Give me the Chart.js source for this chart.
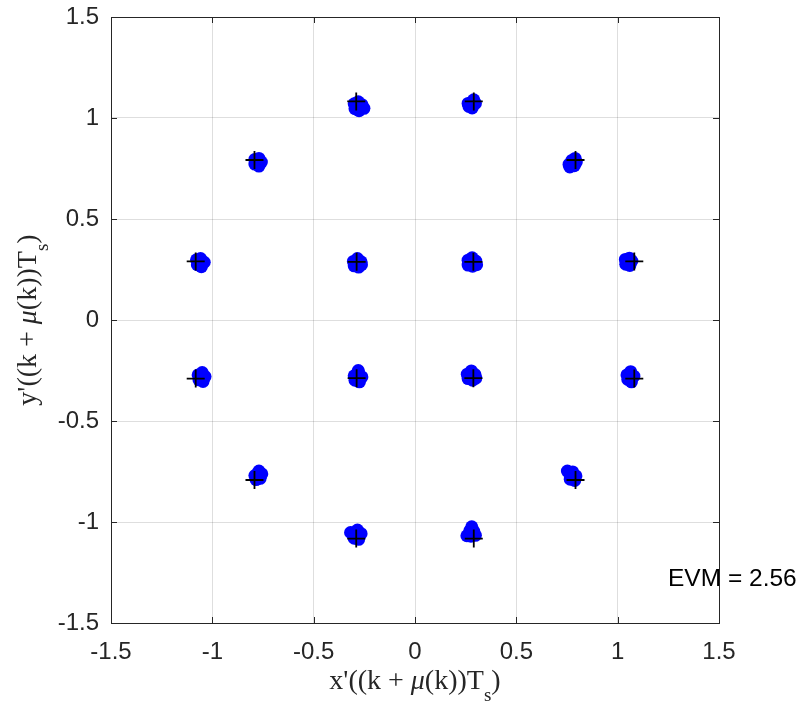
<!DOCTYPE html>
<html lang="en">
<head>
<meta charset="UTF-8" />
<title>Constellation :: EVM</title>
<script src="https://cdn.jsdelivr.net/npm/chart.js"></script>
<style>
  body { margin: 0; background: #fff; }
  canvas { display: block; }
</style>
</head>
<body>
<canvas id="constChart" width="805" height="711"></canvas>
<script>
// ideal constellation points (black crosses)
var idealX = [0.288, -0.288, -0.288, 0.288, 1.082, 0.792, 0.290, -0.290, -0.792, -1.082, -1.082, -0.792, -0.290, 0.290, 0.792, 1.082];
var idealY = [0.288, 0.288, -0.288, -0.288, 0.290, 0.792, 1.082, 1.082, 0.792, 0.290, -0.290, -0.792, -1.082, -1.082, -0.792, -0.290];

// received symbols after timing recovery (blue dots)
var received = [
  // (-0.29, 1.08)
  [-0.300, 1.070], [-0.280, 1.080], [-0.262, 1.066], [-0.296, 1.046], [-0.276, 1.036], [-0.252, 1.048], [-0.282, 1.058],
  // (-0.79, 0.79)
  [-0.790, 0.795], [-0.770, 0.800], [-0.758, 0.782], [-0.790, 0.772], [-0.770, 0.762], [-0.778, 0.782],
  // (-1.08, 0.29)
  [-1.078, 0.298], [-1.058, 0.304], [-1.040, 0.286], [-1.074, 0.274], [-1.054, 0.264], [-1.060, 0.285],
  // (-0.29, 0.29)
  [-0.304, 0.290], [-0.284, 0.304], [-0.266, 0.288], [-0.300, 0.268], [-0.278, 0.262], [-0.264, 0.274], [-0.286, 0.282],
  // (0.29, 1.08)
  [0.290, 1.090], [0.298, 1.072], [0.278, 1.078], [0.266, 1.058], [0.282, 1.050], [0.262, 1.072],
  // (0.79, 0.79)
  [0.790, 0.800], [0.796, 0.782], [0.774, 0.790], [0.760, 0.770], [0.786, 0.764], [0.764, 0.758],
  // (0.29, 0.29)
  [0.262, 0.296], [0.282, 0.308], [0.300, 0.292], [0.262, 0.272], [0.284, 0.266], [0.304, 0.274], [0.282, 0.286],
  // (1.08, 0.29)
  [1.038, 0.300], [1.058, 0.306], [1.070, 0.292], [1.040, 0.276], [1.060, 0.270], [1.050, 0.288],
  // (-1.08, -0.29)
  [-1.070, -0.272], [-1.050, -0.260], [-1.036, -0.280], [-1.066, -0.296], [-1.046, -0.304], [-1.055, -0.284],
  // (-0.29, -0.29)
  [-0.300, -0.276], [-0.280, -0.258], [-0.262, -0.282], [-0.296, -0.298], [-0.274, -0.306], [-0.284, -0.284], [-0.280, -0.250],
  // (-0.79, -0.79)
  [-0.790, -0.770], [-0.770, -0.748], [-0.756, -0.762], [-0.784, -0.790], [-0.764, -0.784], [-0.776, -0.768],
  // (-0.29, -1.08)
  [-0.306, -1.054], [-0.284, -1.040], [-0.266, -1.058], [-0.300, -1.080], [-0.278, -1.086], [-0.290, -1.064], [-0.318, -1.052],
  // (0.29, -0.29)
  [0.258, -0.268], [0.278, -0.252], [0.296, -0.270], [0.262, -0.290], [0.284, -0.298], [0.300, -0.288], [0.278, -0.276],
  // (1.08, -0.29)
  [1.046, -0.272], [1.064, -0.256], [1.080, -0.278], [1.050, -0.294], [1.068, -0.306], [1.060, -0.282],
  // (0.79, -0.79)
  [0.760, -0.756], [0.778, -0.752], [0.794, -0.772], [0.766, -0.788], [0.788, -0.794], [0.776, -0.772], [0.752, -0.748],
  // (0.29, -1.08)
  [0.280, -1.024], [0.270, -1.044], [0.290, -1.046], [0.256, -1.068], [0.276, -1.070], [0.298, -1.066]
];

var xTicks = [-1.5, -1, -0.5, 0, 0.5, 1, 1.5];
var yTicks = [-1.5, -1, -0.5, 0, 0.5, 1, 1.5];
var tickLabels = ["-1.5", "-1", "-0.5", "0", "0.5", "1", "1.5"];
var evmText = "EVM = 2.56";

var sans = '"Liberation Sans", Arial, sans-serif';
var serif = '"Liberation Serif", "Times New Roman", serif';
var ink = "#262626";

// axis label pieces, MATLAB tex style: x'((k + \mu(k))T_s)
function labelParts(first) {
  return [
    { t: first + "'((k + ", font: "28px " + serif },
    { t: "\u03bc", font: "italic 28px " + serif },
    { t: "(k))T", font: "28px " + serif },
    { t: "s", font: "19px " + serif, dy: 12 },
    { t: ")", font: "28px " + serif }
  ];
}

function drawParts(c, parts, cx, baseY) {
  var total = 0;
  parts.forEach(function (p) {
    c.font = p.font;
    p.w = c.measureText(p.t).width;
    total += p.w;
  });
  var x = cx - total / 2;
  parts.forEach(function (p) {
    c.font = p.font;
    c.fillText(p.t, x, baseY + (p.dy || 0));
    x += p.w;
  });
}

var frame = {
  id: "frame",
  afterDraw: function (chart) {
    var c = chart.ctx;
    var a = chart.chartArea;
    var xs = chart.scales.x;
    var ys = chart.scales.y;
    c.save();
    c.strokeStyle = ink;
    c.lineWidth = 1;
    c.beginPath();
    // ticks point inwards on all four sides
    xTicks.forEach(function (v) {
      var px = Math.round(xs.getPixelForValue(v)) + 0.5;
      c.moveTo(px, a.bottom);
      c.lineTo(px, a.bottom - 6);
      c.moveTo(px, a.top);
      c.lineTo(px, a.top + 6);
    });
    yTicks.forEach(function (v) {
      var py = Math.round(ys.getPixelForValue(v)) + 0.5;
      c.moveTo(a.left, py);
      c.lineTo(a.left + 6, py);
      c.moveTo(a.right, py);
      c.lineTo(a.right - 6, py);
    });
    c.stroke();
    c.strokeRect(a.left + 0.5, a.top + 0.5, a.right - a.left, a.bottom - a.top);

    c.fillStyle = ink;
    c.textBaseline = "alphabetic";
    c.textAlign = "left";
    drawParts(c, labelParts("x"), (a.left + a.right) / 2, 689);

    c.save();
    c.translate(36, (a.top + a.bottom) / 2);
    c.rotate(-Math.PI / 2);
    drawParts(c, labelParts("y"), 0, 0);
    c.restore();

    c.fillStyle = "#000";
    c.font = "24.5px " + sans;
    c.fillText(evmText, 668, 586);
    c.restore();
  }
};

function tickText(list) {
  return function (v) {
    var i = list.indexOf(v);
    return i < 0 ? "" : tickLabels[i];
  };
}

var ctx = document.getElementById("constChart").getContext("2d");
var chart = new Chart(ctx, {
  type: "scatter",
  data: {
    datasets: [
      {
        label: "ideal",
        data: idealX.map(function (x, i) { return { x: x, y: idealY[i] }; }),
        pointStyle: "cross",
        pointRadius: 9,
        borderColor: "#000",
        borderWidth: 1.8
      },
      {
        label: "received",
        data: received.map(function (p) { return { x: p[0], y: p[1] }; }),
        pointStyle: "circle",
        pointRadius: 6.5,
        backgroundColor: "#0000ff",
        borderWidth: 0
      }
    ]
  },
  options: {
    responsive: false,
    animation: false,
    layout: { padding: { left: 0, right: 86, top: 17, bottom: 0 } },
    plugins: { legend: { display: false }, tooltip: { enabled: false } },
    scales: {
      x: {
        type: "linear",
        min: -1.5,
        max: 1.5,
        afterBuildTicks: function (axis) {
          axis.ticks = xTicks.map(function (v) { return { value: v }; });
        },
        afterFit: function (s) {
          s.height = 88;
          s.paddingLeft = 0;
          s.paddingRight = 0;
        },
        grid: { color: "rgba(0,0,0,0.13)", drawTicks: false },
        border: { display: false },
        ticks: {
          padding: 15,
          maxRotation: 0,
          autoSkip: false,
          color: ink,
          font: { family: sans, size: 24 },
          callback: tickText(xTicks)
        }
      },
      y: {
        type: "linear",
        min: -1.5,
        max: 1.5,
        afterBuildTicks: function (axis) {
          axis.ticks = yTicks.map(function (v) { return { value: v }; });
        },
        afterFit: function (s) {
          s.width = 111;
          s.paddingTop = 0;
          s.paddingBottom = 0;
        },
        grid: { color: "rgba(0,0,0,0.13)", drawTicks: false },
        border: { display: false },
        ticks: {
          padding: 12,
          autoSkip: false,
          color: ink,
          font: { family: sans, size: 24 },
          callback: tickText(yTicks)
        }
      }
    }
  },
  plugins: [frame]
});
</script>
</body>
</html>
